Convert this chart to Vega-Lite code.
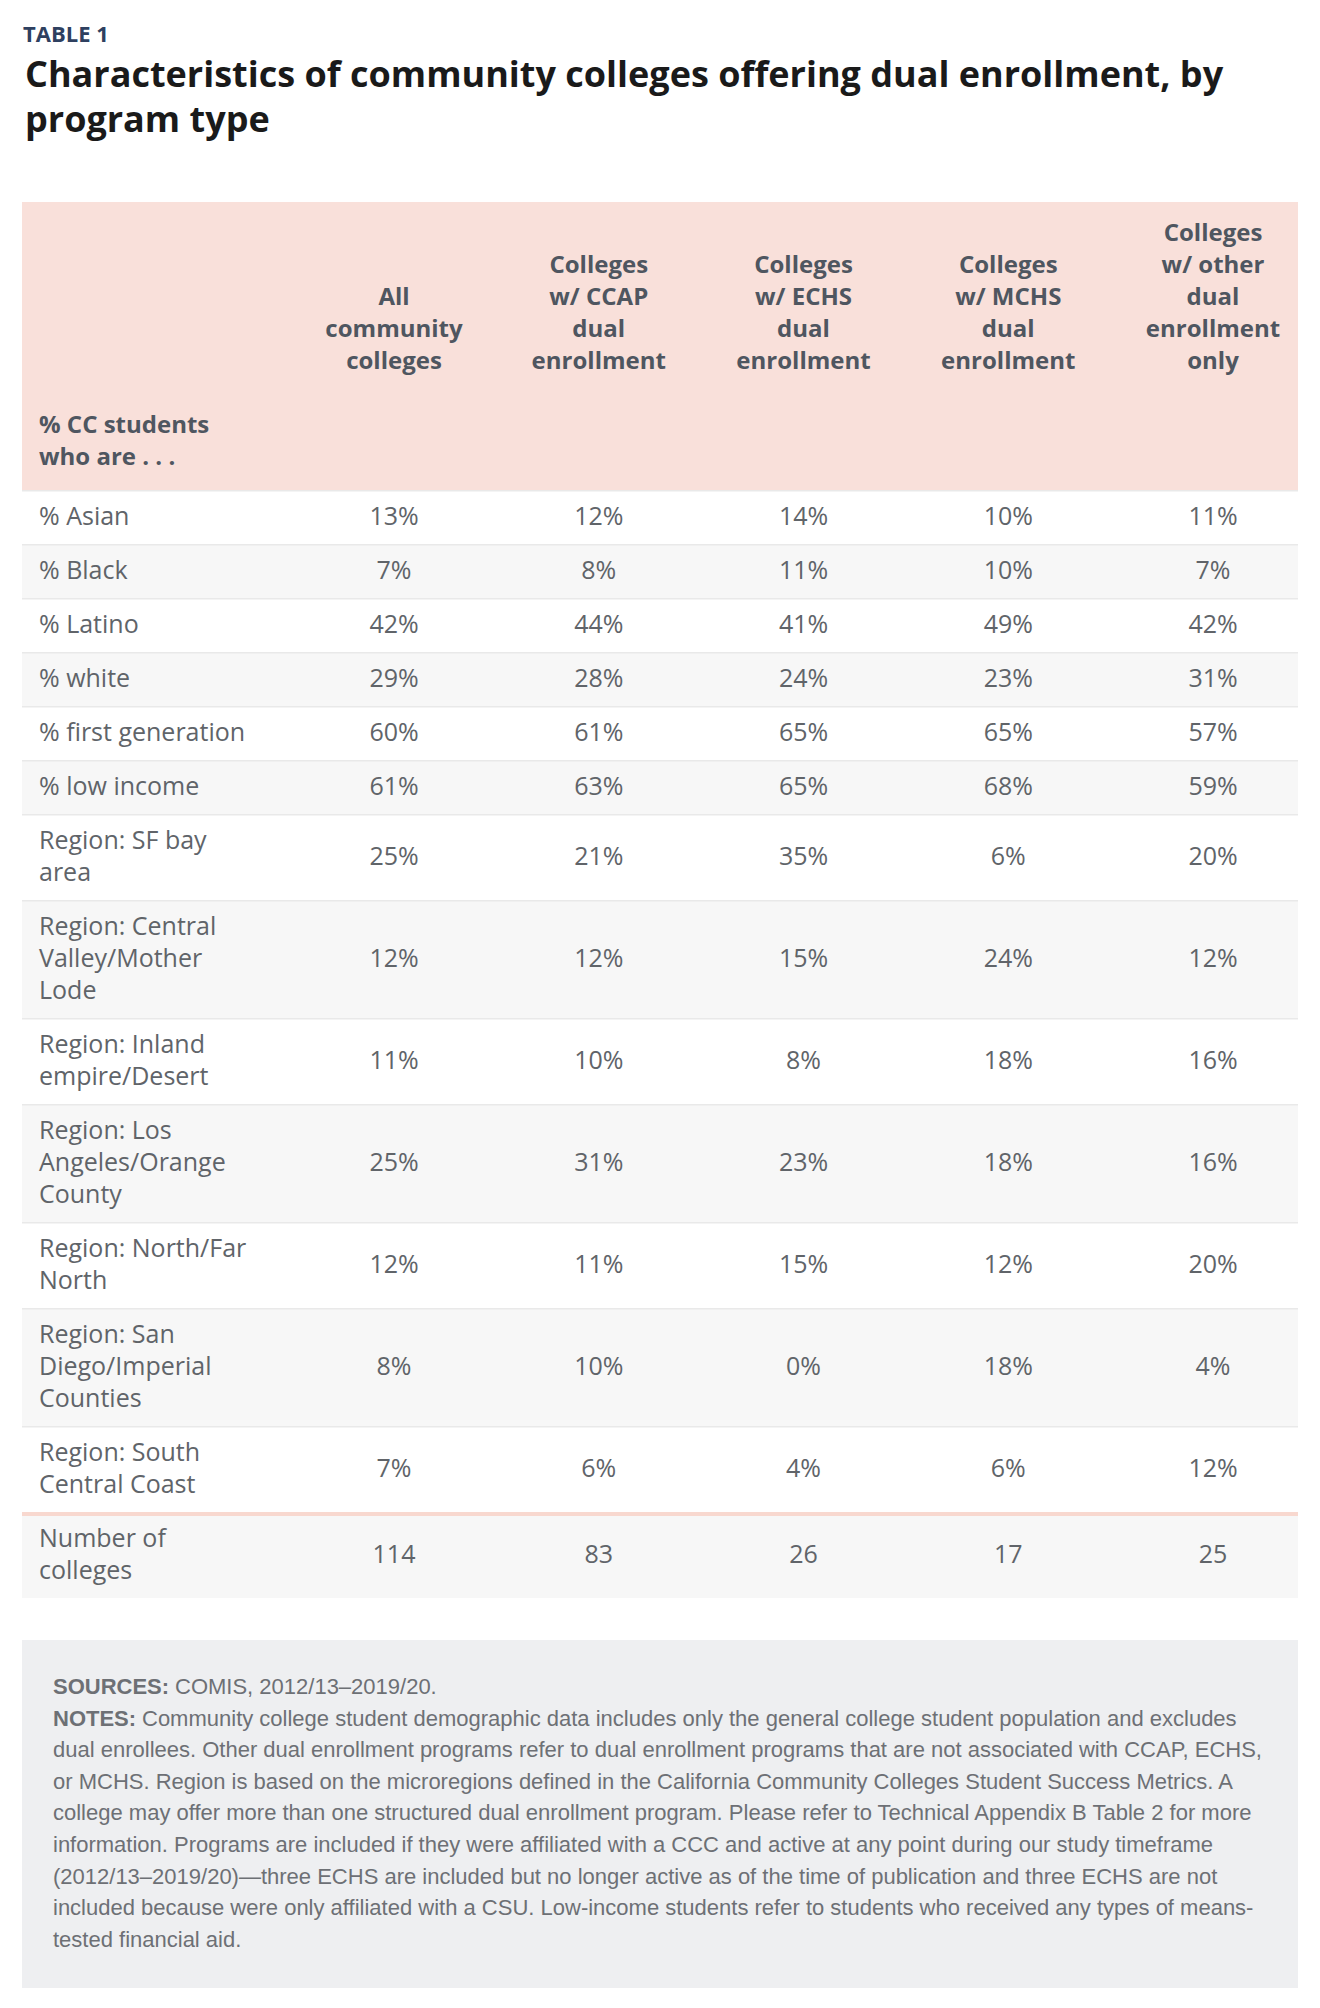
{
  "$schema": "https://vega.github.io/schema/vega-lite/v6.json",
  "width": 1320,
  "height": 2008,
  "autosize": {"type": "fit", "contains": "padding"},
  "padding": {"left": 20, "right": 20, "top": 0, "bottom": 0},
  "background": "white",
  "config": {"view": {"stroke": null}},
  "datasets": {
    "rows": [
      {"i": 1, "label": ["% Asian"], "unit": "pct", "all": 13, "ccap": 12, "echs": 14, "mchs": 10, "other": 11},
      {"i": 2, "label": ["% Black"], "unit": "pct", "all": 7, "ccap": 8, "echs": 11, "mchs": 10, "other": 7},
      {"i": 3, "label": ["% Latino"], "unit": "pct", "all": 42, "ccap": 44, "echs": 41, "mchs": 49, "other": 42},
      {"i": 4, "label": ["% white"], "unit": "pct", "all": 29, "ccap": 28, "echs": 24, "mchs": 23, "other": 31},
      {"i": 5, "label": ["% first generation"], "unit": "pct", "all": 60, "ccap": 61, "echs": 65, "mchs": 65, "other": 57},
      {"i": 6, "label": ["% low income"], "unit": "pct", "all": 61, "ccap": 63, "echs": 65, "mchs": 68, "other": 59},
      {"i": 7, "label": ["Region: SF bay", "area"], "unit": "pct", "all": 25, "ccap": 21, "echs": 35, "mchs": 6, "other": 20},
      {"i": 8, "label": ["Region: Central", "Valley/Mother", "Lode"], "unit": "pct", "all": 12, "ccap": 12, "echs": 15, "mchs": 24, "other": 12},
      {"i": 9, "label": ["Region: Inland", "empire/Desert"], "unit": "pct", "all": 11, "ccap": 10, "echs": 8, "mchs": 18, "other": 16},
      {"i": 10, "label": ["Region: Los", "Angeles/Orange", "County"], "unit": "pct", "all": 25, "ccap": 31, "echs": 23, "mchs": 18, "other": 16},
      {"i": 11, "label": ["Region: North/Far", "North"], "unit": "pct", "all": 12, "ccap": 11, "echs": 15, "mchs": 12, "other": 20},
      {"i": 12, "label": ["Region: San", "Diego/Imperial", "Counties"], "unit": "pct", "all": 8, "ccap": 10, "echs": 0, "mchs": 18, "other": 4},
      {"i": 13, "label": ["Region: South", "Central Coast"], "unit": "pct", "all": 7, "ccap": 6, "echs": 4, "mchs": 6, "other": 12},
      {"i": 14, "label": ["Number of", "colleges"], "unit": "count", "all": 114, "ccap": 83, "echs": 26, "mchs": 17, "other": 25}
    ],
    "headers": [
      {"col": "all", "text": ["All", "community", "colleges"]},
      {"col": "ccap", "text": ["Colleges", "w/ CCAP", "dual", "enrollment"]},
      {"col": "echs", "text": ["Colleges", "w/ ECHS", "dual", "enrollment"]},
      {"col": "mchs", "text": ["Colleges", "w/ MCHS", "dual", "enrollment"]},
      {"col": "other", "text": ["Colleges", "w/ other", "dual", "enrollment", "only"]}
    ],
    "notes": [
      {"i": 0, "lead": "SOURCES:", "text": "COMIS, 2012/13–2019/20."},
      {"i": 1, "lead": "NOTES:", "text": "Community college student demographic data includes only the general college student population and excludes"},
      {"i": 2, "text": "dual enrollees. Other dual enrollment programs refer to dual enrollment programs that are not associated with CCAP, ECHS,"},
      {"i": 3, "text": "or MCHS. Region is based on the microregions defined in the California Community Colleges Student Success Metrics. A"},
      {"i": 4, "text": "college may offer more than one structured dual enrollment program. Please refer to Technical Appendix B Table 2 for more"},
      {"i": 5, "text": "information. Programs are included if they were affiliated with a CCC and active at any point during our study timeframe"},
      {"i": 6, "text": "(2012/13–2019/20)—three ECHS are included but no longer active as of the time of publication and three ECHS are not"},
      {"i": 7, "text": "included because were only affiliated with a CSU. Low-income students refer to students who received any types of means-"},
      {"i": 8, "text": "tested financial aid."}
    ]
  },
  "layer": [
    {
      "data": {"values": [{"part": "header"}]},
      "mark": {"type": "rect", "x": 0, "x2": "width", "color": "#f9e0da"},
      "encoding": {
        "y": {"datum": 202, "type": "quantitative", "scale": {"domain": [0, 2008], "reverse": true, "nice": false, "zero": false}, "axis": null},
        "y2": {"datum": 490}
      }
    },
    {
      "data": {"name": "rows"},
      "transform": [
        {"calculate": "22 + 32 * length(datum.label)", "as": "h"},
        {"window": [{"op": "sum", "field": "h", "as": "cum"}], "sort": [{"field": "i"}]},
        {"calculate": "490 + datum.cum - datum.h", "as": "top"},
        {"calculate": "490 + datum.cum", "as": "bottom"}
      ],
      "mark": {"type": "rect", "x": 0, "x2": "width"},
      "encoding": {
        "y": {"field": "top", "type": "quantitative", "scale": {"domain": [0, 2008], "reverse": true, "nice": false, "zero": false}, "axis": null},
        "y2": {"field": "bottom"},
        "fill": {"condition": {"test": "datum.i % 2 == 0", "value": "#f7f7f7"}, "value": "#ffffff"}
      }
    },
    {
      "data": {"name": "rows"},
      "transform": [
        {"calculate": "22 + 32 * length(datum.label)", "as": "h"},
        {"window": [{"op": "sum", "field": "h", "as": "cum"}], "sort": [{"field": "i"}]},
        {"calculate": "490 + datum.cum - datum.h + 0.75", "as": "top"},
        {"filter": "datum.i < 14"}
      ],
      "mark": {"type": "rule", "color": "#e9e9e9", "strokeWidth": 1.5},
      "encoding": {
        "y": {"field": "top", "type": "quantitative", "scale": {"domain": [0, 2008], "reverse": true, "nice": false, "zero": false}, "axis": null}
      }
    },
    {
      "data": {"name": "rows"},
      "transform": [
        {"calculate": "22 + 32 * length(datum.label)", "as": "h"},
        {"window": [{"op": "sum", "field": "h", "as": "cum"}], "sort": [{"field": "i"}]},
        {"filter": "datum.i == 14"},
        {"calculate": "490 + datum.cum - datum.h + 2", "as": "top"}
      ],
      "mark": {"type": "rule", "color": "#f8d8cf", "strokeWidth": 4},
      "encoding": {
        "y": {"field": "top", "type": "quantitative", "scale": {"domain": [0, 2008], "reverse": true, "nice": false, "zero": false}, "axis": null}
      }
    },
    {
      "data": {"name": "rows"},
      "transform": [
        {"calculate": "22 + 32 * length(datum.label)", "as": "h"},
        {"window": [{"op": "sum", "field": "h", "as": "cum"}], "sort": [{"field": "i"}]},
        {"calculate": "490 + datum.cum - datum.h / 2 - (length(datum.label) - 1) * 16", "as": "first"}
      ],
      "mark": {"type": "text", "align": "left", "baseline": "middle", "dx": -150.25, "font": "Open Sans", "fontSize": 25, "lineHeight": 32, "color": "#606469"},
      "encoding": {
        "x": {"datum": "label", "type": "nominal", "scale": {"type": "point", "domain": ["label", "all", "ccap", "echs", "mchs", "other"], "range": [167.25, 1191], "padding": 0}, "axis": null},
        "y": {"field": "first", "type": "quantitative", "scale": {"domain": [0, 2008], "reverse": true, "nice": false, "zero": false}, "axis": null},
        "text": {"field": "label", "type": "nominal"}
      }
    },
    {
      "data": {"name": "rows"},
      "transform": [
        {"calculate": "22 + 32 * length(datum.label)", "as": "h"},
        {"window": [{"op": "sum", "field": "h", "as": "cum"}], "sort": [{"field": "i"}]},
        {"calculate": "490 + datum.cum - datum.h / 2", "as": "mid"},
        {"fold": ["all", "ccap", "echs", "mchs", "other"], "as": ["col", "v"]},
        {"calculate": "datum.unit == 'pct' ? datum.v + '%' : '' + datum.v", "as": "txt"}
      ],
      "mark": {"type": "text", "align": "center", "baseline": "middle", "font": "Open Sans", "fontSize": 25, "color": "#606469"},
      "encoding": {
        "x": {"field": "col", "type": "nominal", "scale": {"type": "point", "domain": ["label", "all", "ccap", "echs", "mchs", "other"], "range": [167.25, 1191], "padding": 0}, "axis": null},
        "y": {"field": "mid", "type": "quantitative", "scale": {"domain": [0, 2008], "reverse": true, "nice": false, "zero": false}, "axis": null},
        "text": {"field": "txt", "type": "nominal"}
      }
    },
    {
      "data": {"name": "headers"},
      "transform": [
        {"calculate": "362 - (length(datum.text) - 1) * 32", "as": "yc"}
      ],
      "mark": {"type": "text", "align": "center", "baseline": "middle", "font": "Open Sans", "fontWeight": "bold", "fontSize": 24, "lineHeight": 32, "color": "#4f5660"},
      "encoding": {
        "x": {"field": "col", "type": "nominal", "scale": {"type": "point", "domain": ["label", "all", "ccap", "echs", "mchs", "other"], "range": [167.25, 1191], "padding": 0}, "axis": null},
        "y": {"field": "yc", "type": "quantitative", "scale": {"domain": [0, 2008], "reverse": true, "nice": false, "zero": false}, "axis": null},
        "text": {"field": "text", "type": "nominal"}
      }
    },
    {
      "data": {"values": [{"text": ["% CC students", "who are . . ."]}]},
      "mark": {"type": "text", "align": "left", "baseline": "middle", "dx": -150.25, "font": "Open Sans", "fontWeight": "bold", "fontSize": 24, "lineHeight": 32, "color": "#4f5660"},
      "encoding": {
        "x": {"datum": "label", "type": "nominal", "scale": {"type": "point", "domain": ["label", "all", "ccap", "echs", "mchs", "other"], "range": [167.25, 1191], "padding": 0}, "axis": null},
        "y": {"datum": 426, "type": "quantitative", "scale": {"domain": [0, 2008], "reverse": true, "nice": false, "zero": false}, "axis": null},
        "text": {"field": "text", "type": "nominal"}
      }
    },
    {
      "data": {"values": [{"text": "TABLE 1"}]},
      "mark": {"type": "text", "align": "left", "baseline": "alphabetic", "dx": -166.25, "font": "Open Sans", "fontWeight": "bold", "fontSize": 22, "color": "#2e4060"},
      "encoding": {
        "x": {"datum": "label", "type": "nominal", "scale": {"type": "point", "domain": ["label", "all", "ccap", "echs", "mchs", "other"], "range": [167.25, 1191], "padding": 0}, "axis": null},
        "y": {"datum": 42, "type": "quantitative", "scale": {"domain": [0, 2008], "reverse": true, "nice": false, "zero": false}, "axis": null},
        "text": {"field": "text", "type": "nominal"}
      }
    },
    {
      "data": {"values": [{"text": ["Characteristics of community colleges offering dual enrollment, by", "program type"]}]},
      "mark": {"type": "text", "align": "left", "baseline": "alphabetic", "dx": -164.25, "font": "Open Sans", "fontWeight": "bold", "fontSize": 36, "lineHeight": 45, "color": "#1a1a1a"},
      "encoding": {
        "x": {"datum": "label", "type": "nominal", "scale": {"type": "point", "domain": ["label", "all", "ccap", "echs", "mchs", "other"], "range": [167.25, 1191], "padding": 0}, "axis": null},
        "y": {"datum": 87, "type": "quantitative", "scale": {"domain": [0, 2008], "reverse": true, "nice": false, "zero": false}, "axis": null},
        "text": {"field": "text", "type": "nominal"}
      }
    },
    {
      "data": {"values": [{"part": "notes"}]},
      "mark": {"type": "rect", "x": 0, "x2": "width", "color": "#eeeff1"},
      "encoding": {
        "y": {"datum": 1640, "type": "quantitative", "scale": {"domain": [0, 2008], "reverse": true, "nice": false, "zero": false}, "axis": null},
        "y2": {"datum": 1988}
      }
    },
    {
      "data": {"name": "notes"},
      "transform": [
        {"filter": "isValid(datum.lead)"},
        {"calculate": "1694 + 31.6 * datum.i", "as": "yb"}
      ],
      "mark": {"type": "text", "align": "left", "baseline": "alphabetic", "dx": -136.25, "font": "Liberation Sans", "fontWeight": "bold", "fontSize": 22, "color": "#6d7075"},
      "encoding": {
        "x": {"datum": "label", "type": "nominal", "scale": {"type": "point", "domain": ["label", "all", "ccap", "echs", "mchs", "other"], "range": [167.25, 1191], "padding": 0}, "axis": null},
        "y": {"field": "yb", "type": "quantitative", "scale": {"domain": [0, 2008], "reverse": true, "nice": false, "zero": false}, "axis": null},
        "text": {"field": "lead", "type": "nominal"}
      }
    },
    {
      "data": {"name": "notes"},
      "transform": [
        {"filter": "datum.i == 0"},
        {"calculate": "1694 + 31.6 * datum.i", "as": "yb"}
      ],
      "mark": {"type": "text", "align": "left", "baseline": "alphabetic", "dx": -14.25, "font": "Liberation Sans", "fontSize": 22, "color": "#6d7075"},
      "encoding": {
        "x": {"datum": "label", "type": "nominal", "scale": {"type": "point", "domain": ["label", "all", "ccap", "echs", "mchs", "other"], "range": [167.25, 1191], "padding": 0}, "axis": null},
        "y": {"field": "yb", "type": "quantitative", "scale": {"domain": [0, 2008], "reverse": true, "nice": false, "zero": false}, "axis": null},
        "text": {"field": "text", "type": "nominal"}
      }
    },
    {
      "data": {"name": "notes"},
      "transform": [
        {"filter": "datum.i == 1"},
        {"calculate": "1694 + 31.6 * datum.i", "as": "yb"}
      ],
      "mark": {"type": "text", "align": "left", "baseline": "alphabetic", "dx": -47.25, "font": "Liberation Sans", "fontSize": 22, "color": "#6d7075"},
      "encoding": {
        "x": {"datum": "label", "type": "nominal", "scale": {"type": "point", "domain": ["label", "all", "ccap", "echs", "mchs", "other"], "range": [167.25, 1191], "padding": 0}, "axis": null},
        "y": {"field": "yb", "type": "quantitative", "scale": {"domain": [0, 2008], "reverse": true, "nice": false, "zero": false}, "axis": null},
        "text": {"field": "text", "type": "nominal"}
      }
    },
    {
      "data": {"name": "notes"},
      "transform": [
        {"filter": "datum.i >= 2"},
        {"calculate": "1694 + 31.6 * datum.i", "as": "yb"}
      ],
      "mark": {"type": "text", "align": "left", "baseline": "alphabetic", "dx": -136.25, "font": "Liberation Sans", "fontSize": 22, "color": "#6d7075"},
      "encoding": {
        "x": {"datum": "label", "type": "nominal", "scale": {"type": "point", "domain": ["label", "all", "ccap", "echs", "mchs", "other"], "range": [167.25, 1191], "padding": 0}, "axis": null},
        "y": {"field": "yb", "type": "quantitative", "scale": {"domain": [0, 2008], "reverse": true, "nice": false, "zero": false}, "axis": null},
        "text": {"field": "text", "type": "nominal"}
      }
    }
  ]
}
